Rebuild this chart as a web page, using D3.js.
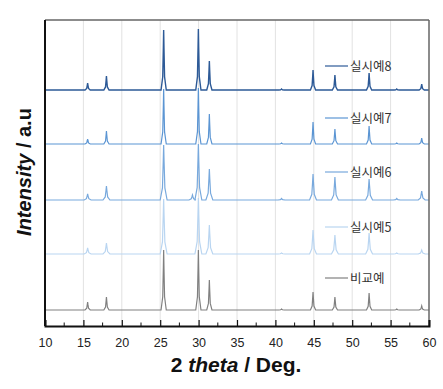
<!DOCTYPE html>
<html>
<head>
<meta charset="utf-8">
<script src="https://cdn.jsdelivr.net/npm/d3@7"></script>
<style>
  body { margin: 0; background: #fff; }
  svg { display: block; }
</style>
</head>
<body>
<svg id="chart" width="443" height="389"></svg>
<script>
// peak positions (2 theta)
var peakPos = [15.55, 18.0, 25.45, 29.2, 29.97, 31.4, 40.8, 44.9, 47.75, 52.2, 55.8, 59.05];

// series names, top to bottom
var seriesNames = ["실시예8", "실시예7", "실시예6", "실시예5", "비교예"];
// baseline offset of each pattern (a.u.)
var offsets = [236, 182, 126, 72, 16];
// peak heights for each pattern (a.u.), same order as peakPos
var heights8 = [7, 14, 60, 0, 61, 29, 1, 20, 15, 17, 1, 6];
var heights7 = [5, 13, 55, 0, 56, 30, 1, 22, 15, 18, 1, 6];
var heights6 = [6, 14, 55, 5, 56, 31, 1.5, 26, 23, 21, 1.5, 9];
var heights5 = [6, 11, 55, 0, 56, 29, 1, 24, 19, 21, 1, 4];
var heightsRef = [8, 13, 60, 0, 60, 30, 1, 18, 13, 17, 1, 4];
var peakWidths = [0.34, 0.34, 0.45, 0.45, 0.34];
var seriesColors = ["#2d5a97", "#5b95d3", "#78a9dd", "#b9d5f1", "#808080"];

var xTicks = [10, 15, 20, 25, 30, 35, 40, 45, 50, 55, 60];

var allHeights = [heights8, heights7, heights6, heights5, heightsRef];

var svg = d3.select("#chart"),
    margin = {left: 45, right: 14, top: 20, bottom: 63},
    width = 443 - margin.left - margin.right,
    height = 389 - margin.top - margin.bottom;

var x = d3.scaleLinear().domain([10, 60]).range([margin.left, margin.left + width]);
var y = d3.scaleLinear().domain([0, 306]).range([margin.top + height, margin.top]);

// vertical grid lines
svg.append("g")
    .selectAll("line")
    .data(xTicks.slice(1, -1))
    .join("line")
    .attr("x1", d => x(d)).attr("x2", d => x(d))
    .attr("y1", margin.top).attr("y2", margin.top + height)
    .attr("stroke", "#e2e2e2")
    .attr("stroke-width", 1);

// build each pattern from its peak table
function patternPoints(hs, w) {
    var pts = [[10, 0]];
    peakPos.forEach(function (p, i) {
        var h = hs[i];
        if (h <= 0) return;
        pts.push([p - w, 0], [p - w * 0.35, h * 0.22], [p - w * 0.12, h * 0.7], [p, h],
                 [p + w * 0.12, h * 0.7], [p + w * 0.35, h * 0.22], [p + w, 0]);
    });
    pts.push([60, 0]);
    return pts;
}

var line = d3.line()
    .x(d => x(d[0]))
    .curve(d3.curveLinear);

// draw bottom pattern first so top ones sit above
d3.range(seriesNames.length).reverse().forEach(function (k) {
    var off = offsets[k];
    svg.append("path")
        .datum(patternPoints(allHeights[k], peakWidths[k]))
        .attr("fill", "none")
        .attr("stroke", seriesColors[k])
        .attr("stroke-width", k === 0 ? 1.4 : 1.2)
        .attr("d", line.y(d => y(d[1] + off)));
});

// legend labels next to each pattern
var legendY = [66, 118, 172, 227, 278];
var lg = svg.append("g");
seriesNames.forEach(function (name, k) {
    lg.append("line")
        .attr("x1", 325).attr("x2", 348)
        .attr("y1", legendY[k]).attr("y2", legendY[k])
        .attr("stroke", seriesColors[k])
        .attr("stroke-width", 1.2);
    lg.append("text")
        .attr("x", 350).attr("y", legendY[k] + 4.5)
        .attr("font-family", "'Noto Sans CJK KR', sans-serif")
        .attr("font-size", 12.5)
        .attr("fill", "#333")
        .text(name);
});

// frame
svg.append("line")
    .attr("x1", margin.left).attr("x2", margin.left + width)
    .attr("y1", margin.top).attr("y2", margin.top)
    .attr("stroke", "#666").attr("stroke-width", 1.5);
svg.append("line")
    .attr("x1", margin.left + width).attr("x2", margin.left + width)
    .attr("y1", margin.top).attr("y2", margin.top + height)
    .attr("stroke", "#666").attr("stroke-width", 1.5);
svg.append("line")
    .attr("x1", margin.left).attr("x2", margin.left)
    .attr("y1", margin.top).attr("y2", margin.top + height)
    .attr("stroke", "#111").attr("stroke-width", 2);

// x axis with inside ticks
var xAxis = d3.axisBottom(x)
    .tickValues(xTicks)
    .tickSize(-6)
    .tickPadding(12)
    .tickFormat(d3.format("d"));
var gx = svg.append("g")
    .attr("transform", "translate(0," + (margin.top + height) + ")")
    .call(xAxis);
gx.select(".domain").attr("stroke", "#111").attr("stroke-width", 2);
gx.selectAll(".tick line").attr("stroke", "#111").attr("stroke-width", 1.2);
gx.selectAll(".tick text")
    .attr("font-family", "Arial, 'Liberation Sans', sans-serif")
    .attr("font-size", 12.5)
    .attr("fill", "#222");

// minor ticks
svg.append("g")
    .selectAll("line")
    .data(d3.range(12.5, 60, 5))
    .join("line")
    .attr("x1", d => x(d)).attr("x2", d => x(d))
    .attr("y1", margin.top + height).attr("y2", margin.top + height - 3.5)
    .attr("stroke", "#111").attr("stroke-width", 1);

// axis titles
var xt = svg.append("text")
    .attr("x", margin.left + width / 2 - 1)
    .attr("y", 372)
    .attr("text-anchor", "middle")
    .attr("font-family", "Arial, 'Liberation Sans', sans-serif")
    .attr("font-size", 21)
    .attr("font-weight", "bold")
    .attr("fill", "#111");
xt.append("tspan").text("2 ");
xt.append("tspan").attr("font-style", "italic").text("theta");
xt.append("tspan").text(" / Deg.");

var yt = svg.append("text")
    .attr("transform", "translate(31,172) rotate(-90)")
    .attr("text-anchor", "middle")
    .attr("font-family", "Arial, 'Liberation Sans', sans-serif")
    .attr("font-size", 20)
    .attr("font-weight", "bold")
    .attr("fill", "#111");
yt.append("tspan").attr("font-style", "italic").text("Intensity");
yt.append("tspan").text(" / a.u");
</script>
</body>
</html>
